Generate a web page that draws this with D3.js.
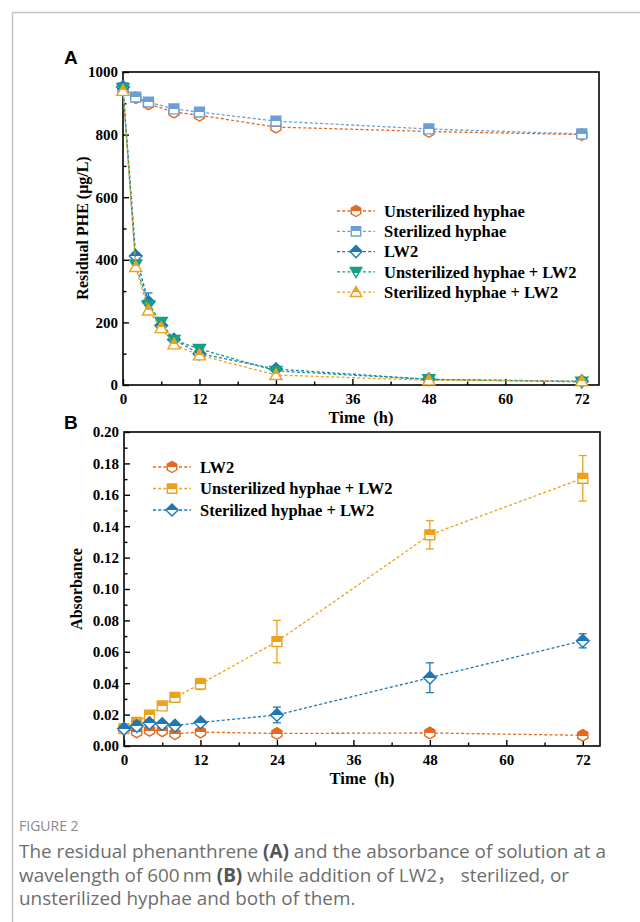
<!DOCTYPE html>
<html><head><meta charset="utf-8">
<script src="https://cdn.jsdelivr.net/npm/d3@7"></script>
<style>
html,body{margin:0;padding:0;background:#fff;}
svg{display:block;}
</style></head>
<body>
<svg id="c" width="640" height="922"></svg>
<script>
// ---------- DATA ----------
const timesHyphaeA = [0, 2, 4, 8, 12, 24, 48, 72];
const unsterHyphaeA = [948, 918, 898, 872, 862, 824, 810, 800];
const sterHyphaeA = [950, 920, 904, 882, 872, 843, 818, 802];
const timesA = [0, 2, 4, 6, 8, 12, 24, 48, 72];
const lw2A = [952, 412, 265, 190, 145, 100, 51, 18, 12];
const lw2AErr = [5, 10, 29, 8, 6, 8, 5, 3, 2];
const unsterLw2A = [948, 385, 255, 201, 144, 115, 45, 18, 10];
const sterLw2A = [940, 377, 238, 182, 130, 95, 32, 15, 12];
const timesB = [0, 2, 4, 6, 8, 12, 24, 48, 72];
const lw2B = [0.011, 0.009, 0.010, 0.0097, 0.0078, 0.0089, 0.008, 0.0083, 0.0068];
const lw2BErr = [0.0008, 0.001, 0.001, 0.001, 0.001, 0.001, 0.0008, 0.0008, 0.0006];
const unsterLw2B = [0.011, 0.015, 0.0197, 0.0255, 0.031, 0.0395, 0.0665, 0.1345, 0.1705];
const unsterLw2BErr = [0.001, 0.001, 0.001, 0.001, 0.0015, 0.0035, 0.0135, 0.009, 0.0145];
const sterLw2B = [0.011, 0.0127, 0.0146, 0.014, 0.013, 0.0150, 0.0198, 0.0435, 0.067];
const sterLw2BErr = [0.001, 0.003, 0.002, 0.001, 0.001, 0.001, 0.005, 0.0095, 0.0045];
const xTicks = [0, 12, 24, 36, 48, 60, 72];
const xMinor = [6, 18, 30, 42, 54, 66];
const yTicksA = [0, 200, 400, 600, 800, 1000];
const yMinorA = [100, 300, 500, 700, 900];
const yTicksB = [0, 0.02, 0.04, 0.06, 0.08, 0.10, 0.12, 0.14, 0.16, 0.18, 0.20];
const yMinorB = [0.01, 0.03, 0.05, 0.07, 0.09, 0.11, 0.13, 0.15, 0.17, 0.19];

const C = {orange:"#e2691f", lblue:"#6a9fd8", blue:"#1f78b6", green:"#14a086", yellow:"#eca21c"};

const seriesA = [
  {name:"Unsterilized hyphae", t:timesHyphaeA, v:unsterHyphaeA, e:null, color:C.orange, shape:"hex"},
  {name:"Sterilized hyphae", t:timesHyphaeA, v:sterHyphaeA, e:null, color:C.lblue, shape:"square"},
  {name:"LW2", t:timesA, v:lw2A, e:lw2AErr, color:C.blue, shape:"diamond"},
  {name:"Unsterilized hyphae + LW2", t:timesA, v:unsterLw2A, e:null, color:C.green, shape:"tdown"},
  {name:"Sterilized hyphae + LW2", t:timesA, v:sterLw2A, e:null, color:C.yellow, shape:"tup"}
];
const seriesB = [
  {name:"LW2", t:timesB, v:lw2B, e:lw2BErr, color:C.orange, shape:"hex"},
  {name:"Unsterilized hyphae + LW2", t:timesB, v:unsterLw2B, e:unsterLw2BErr, color:C.yellow, shape:"square"},
  {name:"Sterilized hyphae + LW2", t:timesB, v:sterLw2B, e:sterLw2BErr, color:C.blue, shape:"diamond"}
];

const svg = d3.select("#c");
const serif = "'Liberation Serif','Times New Roman',serif";

// gradients for half-filled markers
const defs = svg.append("defs");
Object.entries(C).forEach(([k,col])=>{
  const g = defs.append("linearGradient").attr("id","g_"+k).attr("x1",0).attr("y1",0).attr("x2",0).attr("y2",1);
  g.append("stop").attr("offset","0%").attr("stop-color",col);
  g.append("stop").attr("offset","52%").attr("stop-color",col);
  g.append("stop").attr("offset","52%").attr("stop-color","#fff");
  g.append("stop").attr("offset","100%").attr("stop-color","#fff");
});
const gradOf = col => "url(#g_" + Object.keys(C).find(k=>C[k]===col) + ")";

function shapePath(s, r){
  if(s==="hex"){ const p=[]; for(let i=0;i<6;i++){const a=Math.PI/6+i*Math.PI/3; p.push([r*Math.cos(a), r*Math.sin(a)]);} return "M"+p.map(q=>q.join(",")).join("L")+"Z"; }
  if(s==="square"){ const a=r*0.85; return `M${-a},${-a}L${a},${-a}L${a},${a}L${-a},${a}Z`; }
  if(s==="diamond"){ const a=r*1.1; return `M0,${-a}L${a},0L0,${a}L${-a},0Z`; }
  if(s==="tdown"){ const a=r*1.05; return `M${-a},${-a*0.75}L${a},${-a*0.75}L0,${a}Z`; }
  if(s==="tup"){ const a=r*1.05; return `M0,${-a}L${a},${a*0.75}L${-a},${a*0.75}Z`; }
}

// frame
svg.append("line").attr("x1",12.5).attr("y1",12.5).attr("x2",640).attr("y2",12.5).attr("stroke","#c4c4c4").attr("stroke-width",1.5);
svg.append("line").attr("x1",12.5).attr("y1",12).attr("x2",12.5).attr("y2",922).attr("stroke","#c4c4c4").attr("stroke-width",1.5);

function panel(opts){
  const {x,y,series,yTicks,yMinor,fmt,letter,letterPos,ytitle,ytitlePos,xtitleY,legend} = opts;
  const g = svg.append("g");
  const [x0,x1] = x.range(), [y0,y1] = y.range();
  // axes
  g.append("g").attr("transform",`translate(0,${y0})`)
    .call(d3.axisBottom(x).tickValues(xTicks).tickSize(-6).tickPadding(8).tickFormat(d3.format("d")));
  g.append("g").attr("transform",`translate(0,${y0})`).call(d3.axisBottom(x).tickValues(xMinor).tickSize(-3.5).tickFormat(""));
  g.append("g").attr("transform",`translate(${x0},0)`)
    .call(d3.axisLeft(y).tickValues(yTicks).tickSize(-6).tickPadding(5).tickFormat(fmt));
  g.append("g").attr("transform",`translate(${x0},0)`).call(d3.axisLeft(y).tickValues(yMinor).tickSize(-3.5).tickFormat(""));
  g.selectAll(".domain").remove();
  g.selectAll(".tick line").attr("stroke","#000").attr("stroke-width",1.4);
  g.selectAll(".tick text").attr("font-family",serif).attr("font-weight","bold").attr("font-size",15).attr("fill","#000");
  g.append("rect").attr("x",x0).attr("y",y1).attr("width",x1-x0).attr("height",y0-y1)
    .attr("fill","none").attr("stroke","#000").attr("stroke-width",1.6);

  // series
  series.forEach(s=>{
    const pts = s.t.map((t,i)=>({t, v:s.v[i], e:s.e?s.e[i]:0}));
    g.append("path").datum(pts)
      .attr("d", d3.line().x(d=>x(d.t)).y(d=>y(d.v)))
      .attr("fill","none").attr("stroke",s.color).attr("stroke-width",1.3).attr("stroke-dasharray","3,2.2");
    if(s.e){
      const eg = g.append("g").attr("stroke",s.color).attr("stroke-width",1.3);
      pts.forEach(d=>{
        const xx=x(d.t), ya=y(d.v+d.e), yb=y(d.v-d.e);
        eg.append("line").attr("x1",xx).attr("x2",xx).attr("y1",ya).attr("y2",yb);
        eg.append("line").attr("x1",xx-4).attr("x2",xx+4).attr("y1",ya).attr("y2",ya);
        eg.append("line").attr("x1",xx-4).attr("x2",xx+4).attr("y1",yb).attr("y2",yb);
      });
    }
    g.append("g").selectAll("path").data(pts).join("path")
      .attr("transform",d=>`translate(${x(d.t)},${y(d.v)})`)
      .attr("d",shapePath(s.shape,5.8))
      .attr("fill",gradOf(s.color)).attr("stroke",s.color).attr("stroke-width",1.4);
  });

  // legend
  const lg = g.append("g");
  series.forEach((s,i)=>{
    const yy = legend.y + i*legend.dy;
    lg.append("line").attr("x1",legend.x).attr("x2",legend.x+38).attr("y1",yy).attr("y2",yy)
      .attr("stroke",s.color).attr("stroke-width",1.3).attr("stroke-dasharray","3,2.2");
    lg.append("path").attr("transform",`translate(${legend.x+19},${yy})`).attr("d",shapePath(s.shape,5.5))
      .attr("fill",gradOf(s.color)).attr("stroke",s.color).attr("stroke-width",1.4);
    lg.append("text").attr("x",legend.x+47).attr("y",yy).attr("dy","0.35em")
      .attr("font-family",serif).attr("font-weight","bold").attr("font-size",16.5).text(s.name);
  });

  // titles
  g.append("text").attr("x",letterPos[0]).attr("y",letterPos[1]).attr("font-family","'Liberation Sans',Arial,sans-serif")
    .attr("font-weight","bold").attr("font-size",19).text(letter);
  g.append("text").attr("transform",`translate(${ytitlePos[0]},${ytitlePos[1]}) rotate(-90)`).attr("text-anchor","middle")
    .attr("font-family",serif).attr("font-weight","bold").attr("font-size",16).text(ytitle);
  g.append("text").attr("x",(x0+x1)/2).attr("y",xtitleY).attr("text-anchor","middle").attr("xml:space","preserve")
    .attr("font-family",serif).attr("font-weight","bold").attr("font-size",16.5).text("Time  (h)");
}

const xA = d3.scaleLinear().domain([0,74.7]).range([123,599]);
const yA = d3.scaleLinear().domain([0,1000]).range([385,72]);
panel({x:xA,y:yA,series:seriesA,yTicks:yTicksA,yMinor:yMinorA,fmt:d3.format("d"),
  letter:"A",letterPos:[64,64],ytitle:"Residual PHE (\u03bcg/L)",ytitlePos:[88,228],xtitleY:423,
  legend:{x:337,y:211,dy:20.3}});

const xB = d3.scaleLinear().domain([0,74.7]).range([124,600]);
const yB = d3.scaleLinear().domain([0,0.2]).range([746,432]);
panel({x:xB,y:yB,series:seriesB,yTicks:yTicksB,yMinor:yMinorB,fmt:d3.format(".2f"),
  letter:"B",letterPos:[64,429],ytitle:"Absorbance",ytitlePos:[82,589],xtitleY:784,
  legend:{x:153,y:467,dy:21.5}});

// caption
const cap = svg.append("g").attr("font-family","'Open Sans','Noto Sans',sans-serif");
cap.append("text").attr("x",19).attr("y",831).attr("font-size",14).attr("fill","#8a8a8a").text("FIGURE 2");
const lines = [
  [["The residual phenanthrene ",0],["(A)",1],[" and the absorbance of solution at a",0]],
  [["wavelength of 600\u2009nm ",0],["(B)",1],[" while addition of LW2",0],["\uff0c",2],[" sterilized, or",0]],
  [["unsterilized hyphae and both of them.",0]]
];
lines.forEach((ln,i)=>{
  const t = cap.append("text").attr("x",19).attr("y",858+i*23.5).attr("font-size",18.9).attr("fill","#6e6e6e");
  ln.forEach(([s,b])=>{
    const ts = t.append("tspan").text(s);
    if(b===1) ts.attr("font-weight","bold").attr("fill","#555");
    if(b===2) ts.attr("font-family","'Noto Sans CJK SC',sans-serif");
  });
});
</script>
</body></html>
